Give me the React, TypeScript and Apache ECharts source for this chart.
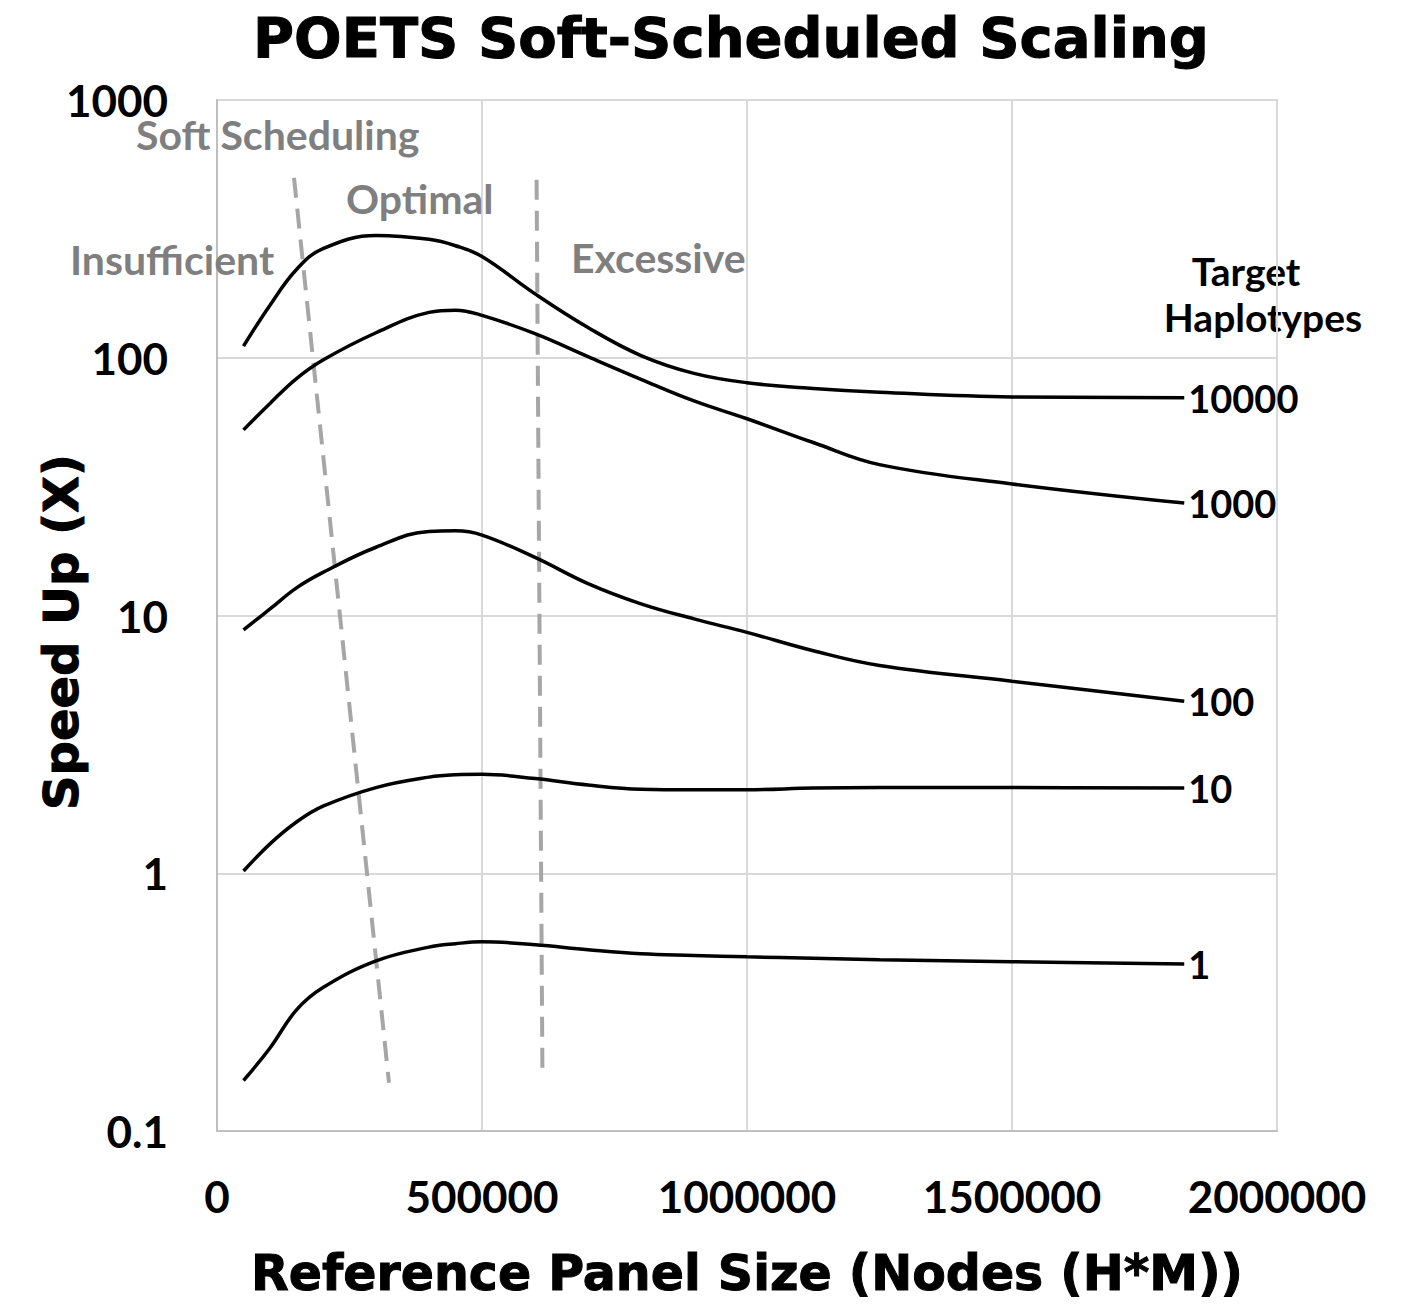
import React, { useEffect, useRef } from "react";
import * as echarts from "echarts";

// Reference panel size (nodes H*M)
const X = [50000, 100000, 150000, 200000, 300000, 400000, 450000, 500000, 600000, 700000, 800000, 900000, 1000000, 1125000, 1250000, 1500000, 1825000];
// Speed up per target haplotypes
const T10000 = [111, 160, 220, 265, 298, 288, 272, 247, 177, 131, 102, 87, 80, 76, 73.5, 70.5, 70];
const T1000 = [52.5, 66.5, 83, 98, 125, 150, 153, 146, 124, 101, 82.5, 68, 58, 46.9, 38.5, 32.4, 27.3];
const T100 = [8.8, 10.6, 12.8, 14.7, 18.4, 21.2, 21.3, 20.5, 16.8, 13.3, 11.1, 9.7, 8.6, 7.3, 6.4, 5.56, 4.65];
const T10 = [1.02, 1.3, 1.58, 1.82, 2.15, 2.36, 2.41, 2.42, 2.33, 2.2, 2.12, 2.11, 2.11, 2.14, 2.15, 2.15, 2.14];
const T1 = [0.157, 0.21, 0.295, 0.36, 0.457, 0.517, 0.533, 0.542, 0.528, 0.505, 0.487, 0.48, 0.474, 0.468, 0.462, 0.454, 0.445];

const SERIES_NAMES = ["10000", "1000", "100", "10", "1"];
const SERIES_VALUES = [T10000, T1000, T100, T10, T1];

// Soft scheduling boundary lines [x, y]
const BOUND_LOW = [[145300, 499], [324500, 0.154]];
const BOUND_HIGH = [[603000, 490], [614000, 0.17]];

const X_TICKS = [0, 500000, 1000000, 1500000, 2000000];
const Y_TICKS = [0.1, 1, 10, 100, 1000];

const TITLE = "POETS Soft-Scheduled Scaling";
const X_NAME = "Reference Panel Size (Nodes (H*M))";
const Y_NAME = "Speed Up (X)";

export default function App() {
  const ref = useRef<HTMLDivElement>(null);
  useEffect(() => {
    if (!ref.current) return;
    const chart = echarts.init(ref.current, null, { renderer: "svg" });
    const heavy = "'DejaVu Sans', 'Liberation Sans', sans-serif";
    const body = "Lato, 'Open Sans', sans-serif";
    const curveSeries = SERIES_NAMES.map((name, i) => ({
      name,
      type: "line",
      data: X.map((x, j) => [x, SERIES_VALUES[i][j]]),
      smooth: 0.4,
      showSymbol: false,
      symbol: "none",
      lineStyle: { color: "#000", width: 3.5 },
      itemStyle: { color: "#000" },
      endLabel: {
        show: true,
        formatter: "{a}",
        fontFamily: body,
        fontWeight: "bold",
        fontSize: 38,
        color: "#000",
        distance: 4,
      },
      z: 3,
    }));
    const boundSeries = [BOUND_LOW, BOUND_HIGH].map((d, i) => ({
      name: "bound" + i,
      type: "line",
      data: d,
      showSymbol: false,
      symbol: "none",
      lineStyle: { color: "#a6a6a6", width: 4, type: [20, 11] },
      z: 2,
    }));
    const gray = "#7f7f7f";
    const annot = (text: string, x: number, y: number) => ({
      type: "text",
      x,
      y,
      style: {
        text,
        fontFamily: body,
        fontWeight: "bold",
        fontSize: 41,
        lineHeight: 30,
        fill: gray,
        textAlign: "left",
        textVerticalAlign: "middle",
      },
      z: 10,
    });
    const legendTitle = (text: string, x: number, y: number) => ({
      type: "text",
      x,
      y,
      style: {
        text,
        fontFamily: body,
        fontWeight: "bold",
        fontSize: 39,
        lineHeight: 39,
        fill: "#000",
        textAlign: "center",
        textVerticalAlign: "middle",
      },
    });
    chart.setOption({
      animation: false,
      backgroundColor: "#ffffff",
      title: {
        text: TITLE,
        left: 248,
        top: 4,
        textStyle: {
          fontFamily: heavy,
          fontWeight: "bold",
          fontSize: 56,
          color: "#000",
          textBorderColor: "#000",
          textBorderWidth: 1,
        },
      },
      grid: { left: 217, right: 126, top: 100, bottom: 182 },
      xAxis: {
        type: "value",
        min: X_TICKS[0],
        max: X_TICKS[X_TICKS.length - 1],
        interval: X_TICKS[1] - X_TICKS[0],
        axisLine: { show: true, lineStyle: { color: "#bfbfbf", width: 2 } },
        axisTick: { show: false },
        splitLine: { show: true, lineStyle: { color: "#d9d9d9", width: 2 } },
        axisLabel: {
          fontFamily: body,
          fontWeight: "bold",
          fontSize: 44,
          color: "#000",
          margin: 43,
          formatter: (v: number) => String(v),
        },
        name: X_NAME,
        nameLocation: "middle",
        nameGap: 118,
        nameTextStyle: {
          fontFamily: heavy,
          fontWeight: "bold",
          fontSize: 49,
          color: "#000",
          textBorderColor: "#000",
          textBorderWidth: 1,
        },
      },
      yAxis: {
        type: "log",
        logBase: 10,
        min: Y_TICKS[0],
        max: Y_TICKS[Y_TICKS.length - 1],
        axisLine: { show: true, lineStyle: { color: "#bfbfbf", width: 2 } },
        axisTick: { show: false },
        minorTick: { show: false },
        splitLine: { show: true, lineStyle: { color: "#d9d9d9", width: 2 } },
        axisLabel: {
          fontFamily: body,
          fontWeight: "bold",
          fontSize: 44,
          lineHeight: 30,
          color: "#000",
          margin: 49,
          formatter: (v: number) => String(Number(v.toPrecision(6))),
        },
      },
      graphic: [
        {
          type: "rect",
          shape: { x: 217, y: 100, width: 1060, height: 1031 },
          style: { fill: "none", stroke: "#d9d9d9", lineWidth: 2 },
          silent: true,
          z: 0,
        },
        {
          type: "text",
          x: 61,
          y: 632,
          rotation: Math.PI / 2,
          style: {
            text: Y_NAME,
            fontFamily: heavy,
            fontWeight: "bold",
            fontSize: 48,
            fill: "#000",
            stroke: "#000",
            lineWidth: 1,
            textAlign: "center",
            textVerticalAlign: "middle",
          },
        },
        annot("Soft Scheduling", 136, 134),
        annot("Optimal", 346, 198),
        annot("Insufficient", 70, 259),
        annot("Excessive", 571, 257),
        legendTitle("Target", 1246, 271),
        legendTitle("Haplotypes", 1263, 317),
      ],
      series: [...boundSeries, ...curveSeries],
    });
    return () => chart.dispose();
  }, []);
  return (
    <div
      ref={ref}
      style={{ position: "absolute", left: 0, top: 0, width: 1403, height: 1313, background: "#fff" }}
    />
  );
}
